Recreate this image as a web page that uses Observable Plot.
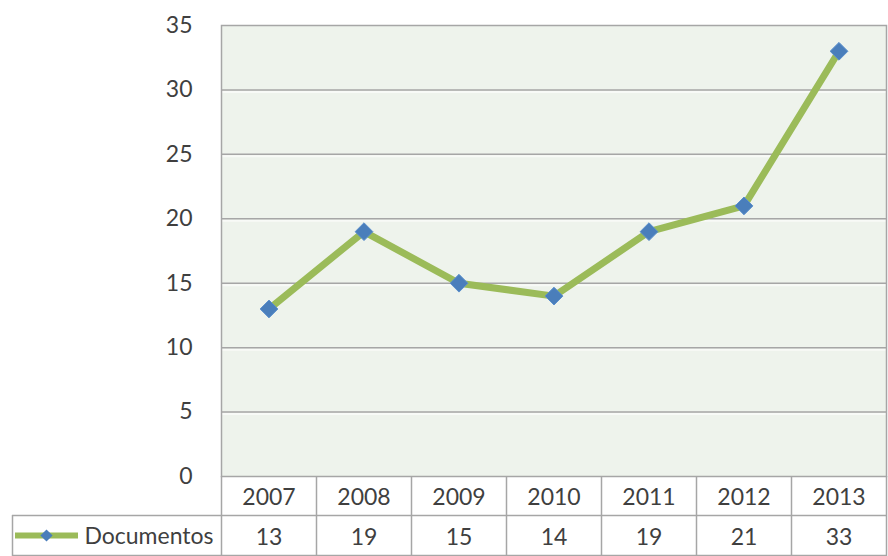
<!DOCTYPE html>
<html>
<head>
<meta charset="utf-8">
<script src="https://cdn.jsdelivr.net/npm/d3@7"></script>
<script src="https://cdn.jsdelivr.net/npm/@observablehq/plot@0.6"></script>
<style>
  html, body { margin: 0; padding: 0; background: #ffffff; }
  #chart { width: 888px; height: 556px; }
</style>
</head>
<body>
<div id="chart"></div>
<script>
const years = [2007, 2008, 2009, 2010, 2011, 2012, 2013];
const documentos = [13, 19, 15, 14, 19, 21, 33];
const yTicks = [0, 5, 10, 15, 20, 25, 30, 35];
const seriesName = "Documentos";

const data = years.map((year, i) => ({year, value: documentos[i]}));
const edges = years.map(y => y - 0.5).concat([years[years.length - 1] + 0.5]);
const x0 = edges[0], x1 = edges[edges.length - 1];

const green = "#9bbb59";
const blue = "#4a7ebb";
const border = "#a6a6a6";
const textColor = "#3f3f3f";
const fs = 23;

const chart = Plot.plot({
  width: 888,
  height: 556,
  marginLeft: 221,
  marginRight: 2,
  marginTop: 25,
  marginBottom: 80,
  style: {fontFamily: "Lato, 'Open Sans', sans-serif", fontSize: fs + "px", color: textColor, background: "#ffffff", overflow: "visible"},
  x: {domain: [x0, x1], axis: null},
  y: {domain: [0, 35], axis: null},
  marks: [
    Plot.frame({fill: "#eef3ec", stroke: "none"}),
    Plot.ruleY(yTicks.slice(1, -1), {stroke: "#f8faf7", strokeWidth: 2, dy: 2}),
    Plot.ruleY(yTicks.slice(1, -1), {stroke: border, strokeWidth: 1.5}),
    Plot.frame({stroke: border, strokeWidth: 1.5}),
    Plot.axisY(yTicks, {tickSize: 0, tickPadding: 29, tickFormat: d => String(d), fontSize: fs, fill: textColor, label: null}),
    // table: vertical column dividers
    Plot.ruleX(edges, {y1: 0, y2: 0, insetBottom: -80, stroke: border, strokeWidth: 1.5}),
    // table: row separators (extend under the legend cell)
    Plot.ruleY([0], {x1: x0, x2: x1, dy: 39, insetLeft: -209, stroke: border, strokeWidth: 1.5}),
    Plot.ruleY([0], {x1: x0, x2: x1, dy: 79, insetLeft: -209, stroke: border, strokeWidth: 1.5}),
    // legend cell left border
    Plot.ruleX([x0], {y1: 0, y2: 0, dx: -209, insetTop: 39, insetBottom: -80, stroke: border, strokeWidth: 1.5}),
    // header row: years
    Plot.text(data, {x: "year", y: () => 0, dy: 21, text: d => String(d.year), fill: textColor, fontSize: fs}),
    // value row
    Plot.text(data, {x: "year", y: () => 0, dy: 61, text: d => String(d.value), fill: textColor, fontSize: fs}),
    // legend key
    Plot.ruleY([0], {x1: x0, x2: x0, dy: 59, insetLeft: -206, insetRight: 143, stroke: green, strokeWidth: 6}),
    Plot.dot([seriesName], {x: () => x0, y: () => 0, dx: -175, dy: 59, symbol: "diamond2", r: 5.5, fill: blue}),
    Plot.text([seriesName], {x: () => x0, y: () => 0, dx: -8, dy: 60, textAnchor: "end", fill: textColor, fontSize: fs, letterSpacing: "0.4px"}),
    // series
    Plot.line(data, {x: "year", y: "value", stroke: green, strokeWidth: 7, strokeLinejoin: "round", strokeLinecap: "round"}),
    Plot.dot(data, {x: "year", y: "value", symbol: "diamond2", r: 8, fill: blue, stroke: "#5b8fcc", strokeWidth: 1})
  ]
});
document.getElementById("chart").appendChild(chart);
</script>
</body>
</html>
